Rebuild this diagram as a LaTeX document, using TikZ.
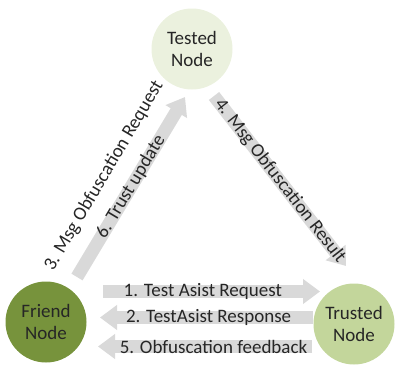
\documentclass[tikz,border=0pt]{standalone}
\usepackage{fontspec}
\setmainfont{Carlito}
\usetikzlibrary{arrows.meta}
\definecolor{testedfill}{HTML}{EBF1DE}
\definecolor{friendfill}{HTML}{77933C}
\definecolor{trustedfill}{HTML}{C3D69B}
\definecolor{graybar}{HTML}{D9D9D9}
\definecolor{inkgray}{HTML}{262626}
\tikzset{
  peer/.style={circle,minimum size=81pt,inner sep=0pt,align=center,
    font=\fontsize{19}{22}\selectfont,text=inkgray},
  fat/.style={-{Triangle[length=17pt,width=24pt]},line width=13pt,draw=graybar},
  msg/.style={font=\fontsize{19}{22}\selectfont,text=inkgray,inner sep=0pt}
}

\begin{document}
\begin{tikzpicture}[x=1pt,y=-1pt]
  \useasboundingbox (0,0) rectangle (398,364);
  \node[peer,fill=testedfill] (tested) at (192,49) {Tested\\Node};
  \node[peer,fill=friendfill] (friend) at (46,322) {Friend\\Node};
  \node[peer,fill=trustedfill] (trusted) at (354,324) {Trusted\\Node};
  % arrow ends
  \coordinate (reqtail) at (103,291.5);
  \coordinate (reqtip) at (320,291.5);
  \coordinate (resptail) at (313,317.5);
  \coordinate (resptip) at (100,317.5);
  \coordinate (fbtail) at (312,346.5);
  \coordinate (fbtip) at (98,346.5);
  \coordinate (updtail) at (77,277);
  \coordinate (updtip) at (185,97);
  \coordinate (restail) at (214,96);
  \coordinate (restip) at (346,266);
  \draw[fat] (reqtail) -- node[msg,pos=0.46] {1. Test Asist Request} (reqtip);
  \draw[fat] (resptail) -- node[msg,pos=0.49] {2. TestAsist Response} (resptip);
  \draw[fat] (fbtail) -- node[msg,pos=0.46] {5. Obfuscation feedback} (fbtip);
  \draw[fat] (updtail) -- node[msg,sloped] {6. Trust update} (updtip);
  \draw[fat] (restail) -- node[msg,sloped] {4. Msg Obfuscation Result} (restip);
  \node[msg,rotate=59.5] (obfreq) at (104,176) {3. Msg Obfuscation Request};
\end{tikzpicture}
\end{document}
